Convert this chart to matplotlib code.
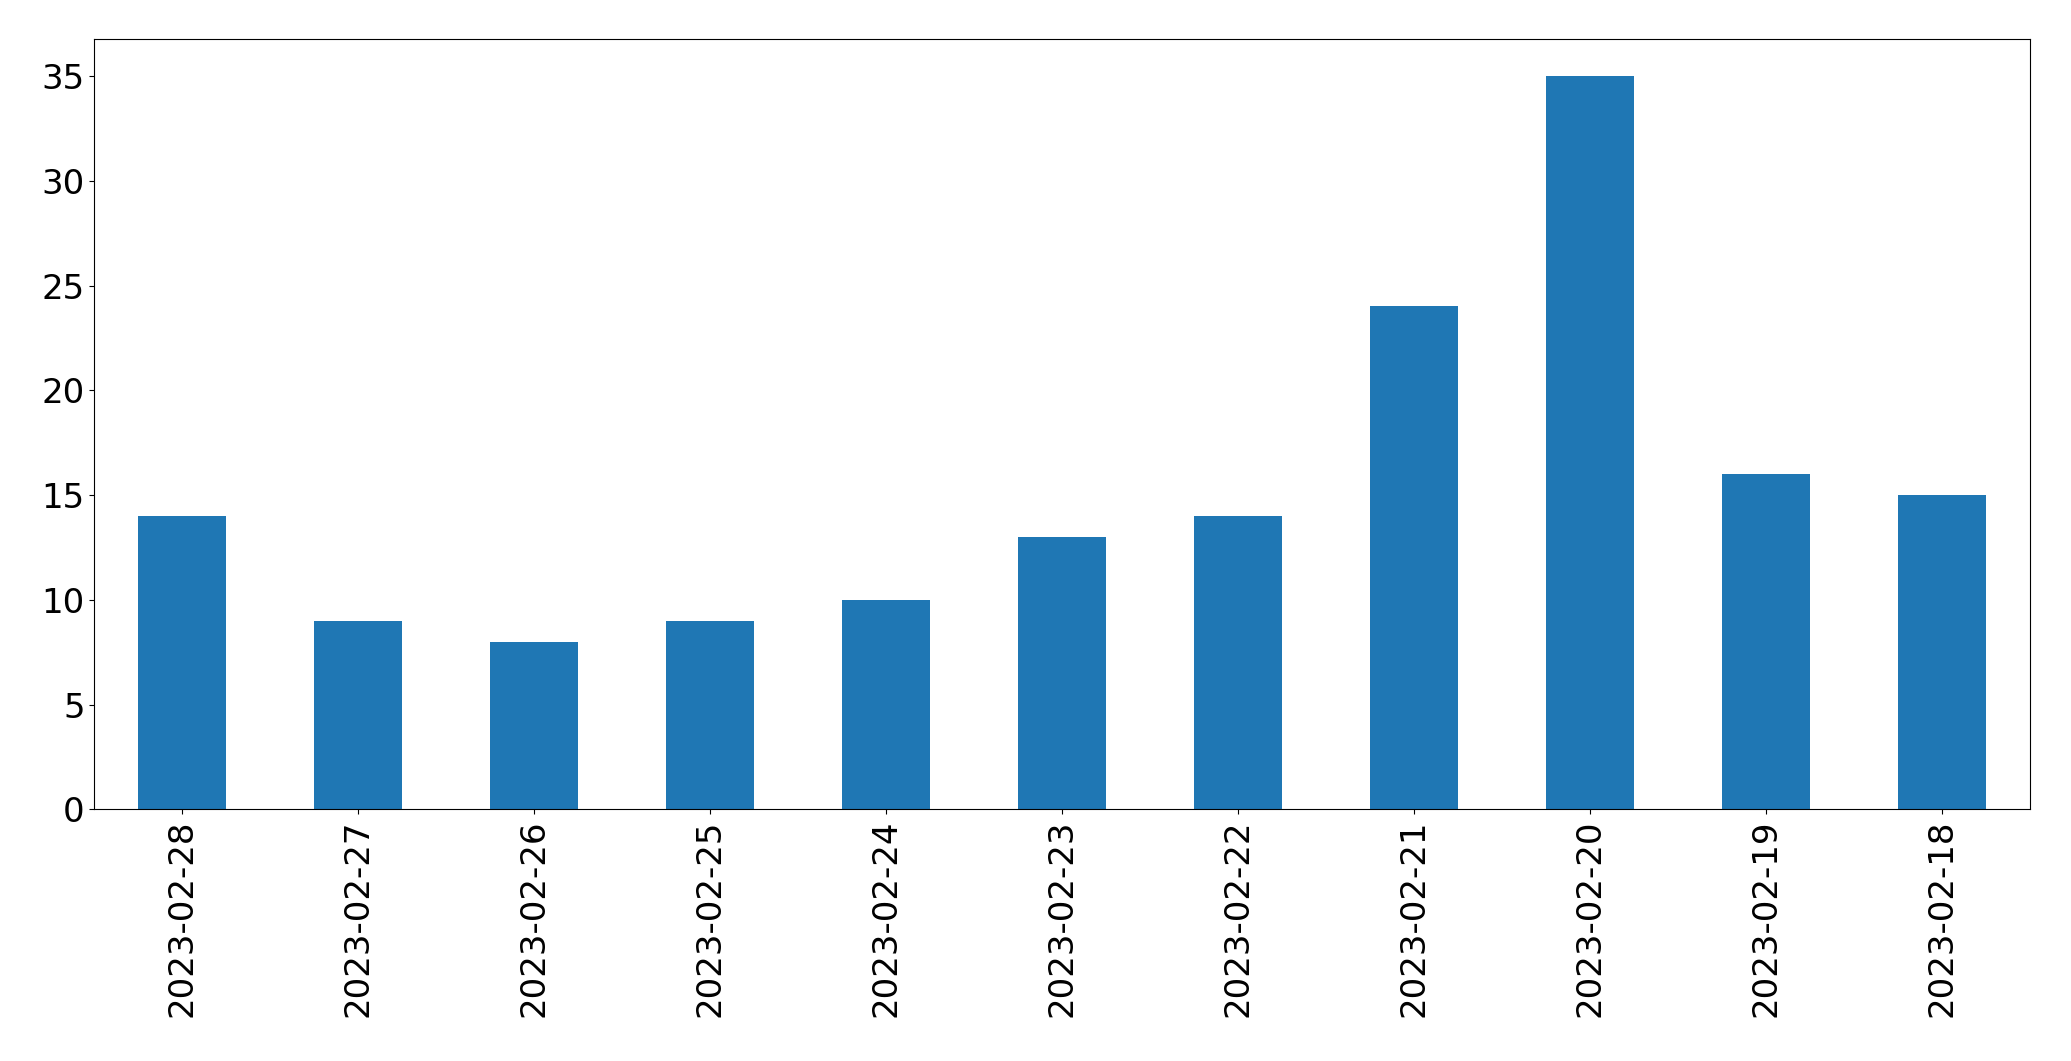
import matplotlib
matplotlib.use("Agg")
import matplotlib.pyplot as plt

dates = ['2023-02-28', '2023-02-27', '2023-02-26', '2023-02-25', '2023-02-24',
         '2023-02-23', '2023-02-22', '2023-02-21', '2023-02-20', '2023-02-19',
         '2023-02-18']
counts = [14, 9, 8, 9, 10, 13, 14, 24, 35, 16, 15]

fig = plt.figure(figsize=(20.71, 10.61), dpi=100)
ax = fig.add_axes([0.0456, 0.2372, 0.9346, 0.7257])
ax.bar(range(len(dates)), counts, width=0.5, color='#1f77b4')
ax.set_xlim(-0.5, len(dates) - 0.5)
ax.set_ylim(0, 36.75)
ax.set_xticks(range(len(dates)))
ax.set_xticklabels(dates, rotation=90)
ax.tick_params(axis='both', labelsize=24.5)
fig.savefig('out.png', dpi=100)
